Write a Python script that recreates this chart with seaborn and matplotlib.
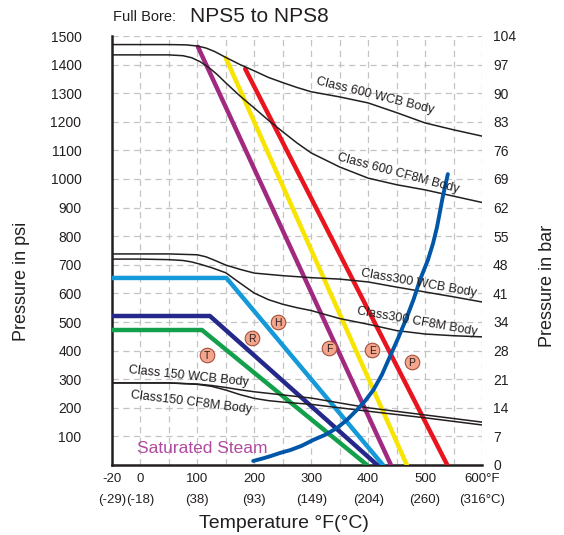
import pandas as pd
import matplotlib
matplotlib.use("Agg")
import matplotlib.pyplot as plt
import seaborn as sns

# =============================================================================
# Data (temperature in F, pressure in psi)
# =============================================================================
c600_wcb_t = [-50, 0, 50, 80, 100, 115, 130, 150, 175, 200, 225, 250, 275, 300, 350, 400, 450, 500, 550, 600]
c600_wcb_p = [1470, 1470, 1470, 1469, 1465, 1458, 1446, 1425, 1400, 1378, 1355, 1337, 1320, 1305, 1287, 1266, 1232, 1196, 1172, 1150]

c600_cf8m_t = [-50, 0, 50, 75, 90, 105, 120, 135, 150, 175, 200, 225, 250, 275, 300, 350, 400, 450, 500, 550, 600]
c600_cf8m_p = [1434, 1434, 1434, 1431, 1424, 1410, 1390, 1365, 1336, 1290, 1248, 1205, 1165, 1126, 1091, 1042, 1003, 980, 962, 940, 918]

c300_wcb_t = [-50, 0, 50, 100, 115, 130, 150, 175, 200, 250, 300, 350, 400, 450, 500, 550, 600]
c300_wcb_p = [738, 738, 738, 735, 728, 716, 699, 684, 671, 662, 655, 650, 640, 622, 605, 588, 570]

c300_cf8m_t = [-50, 0, 50, 75, 90, 105, 125, 150, 175, 200, 225, 250, 275, 300, 350, 400, 450, 500, 550, 600]
c300_cf8m_p = [720, 720, 718, 715, 710, 702, 690, 672, 636, 601, 578, 562, 550, 540, 512, 492, 470, 458, 452, 448]

c150_wcb_t = [-50, 0, 50, 100, 125, 150, 175, 200, 250, 300, 400, 500, 600]
c150_wcb_p = [287, 287, 287, 283, 278, 271, 263, 256, 245, 234, 200, 175, 150]

c150_cf8m_t = [-50, 0, 50, 100, 125, 150, 175, 200, 225, 250, 300, 400, 500, 600]
c150_cf8m_p = [287, 287, 287, 282, 275, 262, 246, 233, 225, 220, 212, 188, 165, 140]

# seat ratings
seat_names = ["H", "R", "T", "F", "E", "P"]
seat_t = [[-50, 151, 426], [-50, 122, 416], [-50, 108, 398],
          [101, 440], [150, 468], [184, 539]]
seat_p = [[654, 654, 0], [521, 521, 0], [472, 472, 0],
          [1462, 0], [1423, 0], [1385, 0]]
seat_colors = ["#1499D9", "#24288A", "#12A04B", "#A12A80", "#F7E400", "#E8141E"]

steam_t = [198, 215, 230, 245, 263, 283, 303, 325, 345, 363, 380, 395, 409, 424, 438, 453, 468, 480, 491, 505, 514, 521, 531, 540]
steam_p = [14, 23, 32, 42, 52, 67, 87, 106, 129, 158, 192, 225, 262, 315, 378, 445, 517, 580, 647, 717, 775, 832, 937, 1017]

# circled seat letters
mark_letters = ["T", "R", "H", "F", "E", "P"]
mark_t = [117, 196, 242, 331, 407, 477]
mark_p = [385, 444, 500, 409, 402, 360]

x_ticks = [-50, 0, 50, 100, 150, 200, 250, 300, 350, 400, 450, 500, 550, 600]
x_labels_f = ["-20", "0", "", "100", "", "200", "", "300", "", "400", "", "500", "", "600°F"]
c_ticks = [-50, 0, 100, 200, 300, 400, 500, 600]
c_labels = ["(-29)", "(-18)", "(38)", "(93)", "(149)", "(204)", "(260)", "(316°C)"]
psi_ticks = list(range(0, 1501, 100))
psi_labels = [""] + [str(v) for v in psi_ticks[1:]]
bar_labels = ["0", "7", "14", "21", "28", "34", "41", "48", "55", "62",
              "69", "76", "83", "90", "97", "104"]

# =============================================================================
# Plot
# =============================================================================
sns.set_style("white")
plt.rcParams['font.family'] = ['Liberation Sans', 'DejaVu Sans']
ink = "#231F20"

fig = plt.figure(figsize=(5.64, 5.35), dpi=100)
ax = fig.add_axes([112 / 564, 70 / 535, 370 / 564, 429 / 535])

body_lines = [(c600_wcb_t, c600_wcb_p), (c600_cf8m_t, c600_cf8m_p),
              (c300_wcb_t, c300_wcb_p), (c300_cf8m_t, c300_cf8m_p),
              (c150_wcb_t, c150_wcb_p), (c150_cf8m_t, c150_cf8m_p)]
for t, p in body_lines:
    sns.lineplot(x=t, y=p, ax=ax, color=ink, lw=1.1, zorder=4, sort=False)

for t, p, c in zip(seat_t, seat_p, seat_colors):
    sns.lineplot(x=t, y=p, ax=ax, color=c, lw=3.2, zorder=3, sort=False)

sns.lineplot(x=steam_t, y=steam_p, ax=ax, color="#0057A8", lw=2.8, zorder=5, sort=False)

marks = pd.DataFrame({'t': mark_t, 'p': mark_p, 'l': mark_letters})
sns.scatterplot(data=marks, x='t', y='p', ax=ax, s=110, color="#F4A58C",
                edgecolor="#A0503A", linewidth=0.8, zorder=6)
for line in range(marks.shape[0]):
    ax.text(marks.t[line], marks.p[line] - 3, marks.l[line], ha='center', va='center',
            fontsize=7.5, color=ink, zorder=7)

# curve labels
lbl = dict(fontsize=9, color=ink, ha='center', va='center', rotation_mode='anchor', zorder=8)
ax.text(412, 1290, "Class 600 WCB Body", rotation=-14, **lbl)
ax.text(452, 1021, "Class 600 CF8M Body", rotation=-15, **lbl)
ax.text(488, 636, "Class300 WCB Body", rotation=-10, **lbl)
ax.text(486, 500, "Class300 CF8M Body", rotation=-10, **lbl)
ax.text(85, 311, "Class 150 WCB Body", rotation=-6, **lbl)
ax.text(89, 217, "Class150 CF8M Body", rotation=-7, **lbl)
ax.text(108, 59, "Saturated Steam", fontsize=12.5, color="#B04A9E",
        ha='center', va='center', zorder=8)

ax.set_xlim(-50, 600)
ax.set_ylim(0, 1500)
ax.set_xticks(x_ticks)
ax.set_xticklabels(x_labels_f, fontsize=9.5, color=ink)
ax.set_yticks(psi_ticks)
ax.set_yticklabels(psi_labels, fontsize=10, color=ink)
ax.tick_params(axis='x', length=0, pad=6)
ax.tick_params(axis='y', length=0, pad=22)
ax.set_xlabel("")
ax.set_ylabel("")
ax.grid(True, color="#C4C4C4", lw=0.9, linestyle=(0, (5, 3.6)))
ax.set_axisbelow(True)
for s in ['top', 'right']:
    ax.spines[s].set_visible(False)
for s in ['left', 'bottom']:
    ax.spines[s].set_color(ink)
    ax.spines[s].set_linewidth(1.8)

for x, c in zip(c_ticks, c_labels):
    ax.text(x, -0.082, c, transform=ax.get_xaxis_transform(), ha='center',
            va='center', fontsize=9.5, color=ink)

ax2 = ax.twinx()
ax2.set_ylim(0, 1500)
ax2.set_yticks(psi_ticks)
ax2.set_yticklabels(bar_labels, fontsize=10, color=ink)
ax2.tick_params(axis='y', length=0, pad=8)
for s in ax2.spines.values():
    s.set_visible(False)

fig.text(113 / 564, 1 - 17 / 535, "Full Bore:", fontsize=10.5, color=ink, ha='left', va='center')
fig.text(190 / 564, 1 - 17 / 535, "NPS5 to NPS8", fontsize=15, color=ink, ha='left', va='center')
fig.text(22 / 564, 1 - 281 / 535, "Pressure in psi", fontsize=13, color=ink,
         rotation=90, ha='center', va='center')
fig.text(548 / 564, 1 - 286 / 535, "Pressure in bar", fontsize=13, color=ink,
         rotation=90, ha='center', va='center')
fig.text(284 / 564, 1 - 523 / 535, "Temperature °F(°C)", fontsize=14, color=ink,
         ha='center', va='center')

fig.savefig("out.png", dpi=100)
